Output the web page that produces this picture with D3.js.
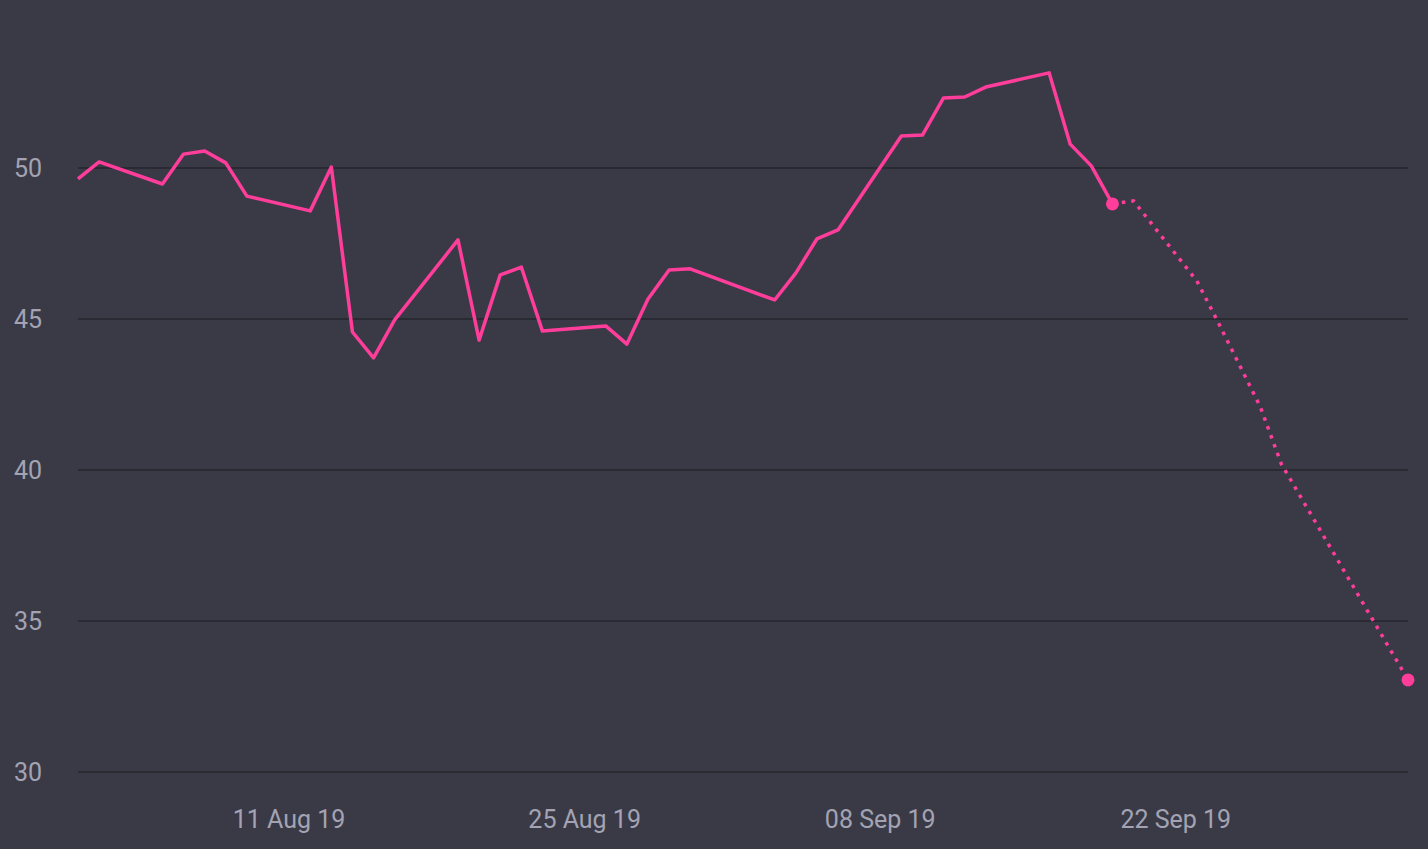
<!DOCTYPE html>
<html lang="en">
<head>
  <meta charset="UTF-8">
  <title>Line chart with forecast</title>
  <script src="https://d3js.org/d3.v7.min.js"></script>
  <style>
    body { margin: 0; background: #3a3a46; }
    text { font-family: "Liberation Sans Narrow", "Roboto", sans-serif; }
  </style>
</head>
<body>
  <script>
    // 1. Data
    const actualDates = ["2019-08-01","2019-08-02","2019-08-05","2019-08-06","2019-08-07","2019-08-08","2019-08-09",
      "2019-08-12","2019-08-13","2019-08-14","2019-08-15","2019-08-16","2019-08-19","2019-08-20","2019-08-21",
      "2019-08-22","2019-08-23","2019-08-26","2019-08-27","2019-08-28","2019-08-29","2019-08-30","2019-09-03",
      "2019-09-04","2019-09-05","2019-09-06","2019-09-09","2019-09-10","2019-09-11","2019-09-12","2019-09-13",
      "2019-09-16","2019-09-17","2019-09-18","2019-09-19"];
    const actualValues = [49.64,50.2,49.47,50.46,50.56,50.17,49.07,48.58,50.03,44.57,43.71,44.97,47.62,44.3,46.46,
      46.72,44.6,44.77,44.17,45.66,46.62,46.66,45.63,46.52,47.65,47.95,51.06,51.09,52.32,52.35,52.68,53.15,50.79,50.07,48.81];
    const forecastDates = ["2019-09-19","2019-09-20","2019-09-23","2019-09-24","2019-09-26","2019-09-27","2019-10-03"];
    const forecastValues = [48.81,48.91,46.26,44.9,42.1,40.2,33.05];
    const yTicks = [30, 35, 40, 45, 50];
    const xTicks = ["2019-08-11","2019-08-25","2019-09-08","2019-09-22"];

    const parse = d3.timeParse("%Y-%m-%d");
    const actual = actualDates.map((d, i) => ({ date: parse(d), value: actualValues[i] }));
    const forecast = forecastDates.map((d, i) => ({ date: parse(d), value: forecastValues[i] }));

    // 2. SVG Canvas
    const width = 1428, height = 849;
    const svg = d3.select("body").append("svg")
      .attr("width", width).attr("height", height);
    svg.append("rect").attr("width", width).attr("height", height).attr("fill", "#3a3a46");

    // 3. Scales
    const x = d3.scaleTime()
      .domain([parse("2019-08-01"), parse("2019-10-03")])
      .range([78, 1408]);
    const y = d3.scaleLinear().domain([30, 50]).range([772, 168]);

    // 4. Grid + axes
    svg.append("g").selectAll("line").data(yTicks).join("line")
      .attr("x1", 78).attr("x2", 1408)
      .attr("y1", d => y(d)).attr("y2", d => y(d))
      .attr("stroke", "#26262e").attr("stroke-width", 1.5);

    svg.append("g").selectAll("text").data(yTicks).join("text")
      .attr("x", 28).attr("y", d => y(d) + 9)
      .attr("text-anchor", "middle")
      .attr("fill", "#a3a3b3").attr("font-size", 25)
      .text(d => d);

    const fmt = d3.timeFormat("%d %b %y");
    svg.append("g").selectAll("text").data(xTicks).join("text")
      .attr("x", d => x(parse(d))).attr("y", 828)
      .attr("text-anchor", "middle")
      .attr("fill", "#a3a3b3").attr("font-size", 25)
      .text(d => fmt(parse(d)));

    // 5. Lines
    const line = d3.line().x(d => x(d.date)).y(d => y(d.value));
    const pink = "#ff3d9a";

    svg.append("path").datum(actual)
      .attr("fill", "none").attr("stroke", pink).attr("stroke-width", 3.5)
      .attr("stroke-linejoin", "round").attr("d", line);

    svg.append("path").datum(forecast)
      .attr("fill", "none").attr("stroke", pink).attr("stroke-width", 3.5)
      .attr("stroke-dasharray", "3.5 6").attr("d", line);

    svg.append("g").selectAll("circle")
      .data([actual[actual.length - 1], forecast[forecast.length - 1]])
      .join("circle")
      .attr("cx", d => x(d.date)).attr("cy", d => y(d.value))
      .attr("r", 6.5).attr("fill", pink);
  </script>
</body>
</html>
